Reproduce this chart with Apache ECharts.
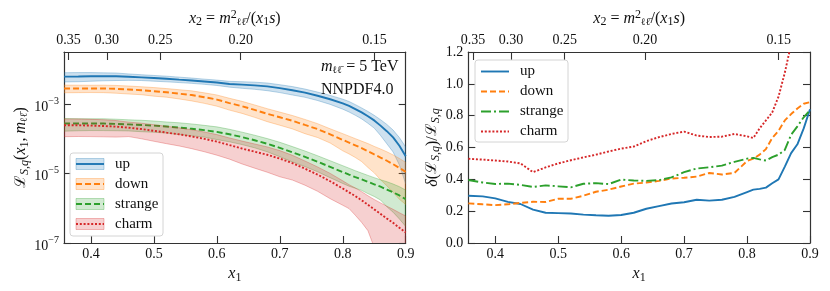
<!DOCTYPE html>
<html><head><meta charset="utf-8">
<script src="https://cdn.jsdelivr.net/npm/echarts@6/dist/echarts.min.js"></script>
<style>html,body{margin:0;padding:0;background:#fff}#c{width:830px;height:291px}</style>
</head><body><div id="c"></div>
<script>
// ---------------- data ----------------
const M_LL_TEV = 5, SQRT_S_TEV = 14;           // m_ll = 5 TeV, sqrt(s) = 14 TeV
const x1 = [0.3572,0.38,0.40,0.42,0.44,0.46,0.48,0.50,0.52,0.54,0.56,0.58,0.60,0.62,0.64,0.66,0.68,0.70,0.72,0.74,0.76,0.78,0.80,0.81,0.82,0.83,0.84,0.85,0.86,0.87,0.88,0.89,0.90];
// central luminosities
const lumUp      = [6.17e-3,6.24e-3,6.31e-3,6.31e-3,6.31e-3,6.10e-3,5.89e-3,5.62e-3,5.37e-3,5.07e-3,4.79e-3,4.47e-3,4.17e-3,3.80e-3,3.63e-3,3.47e-3,3.24e-3,2.88e-3,2.51e-3,2.14e-3,1.74e-3,1.38e-3,1.05e-3,8.9e-4,7.2e-4,5.75e-4,4.47e-4,3.39e-4,2.40e-4,1.66e-4,1.10e-4,6.3e-5,3.16e-5];
const lumDown    = [2.82e-3,2.82e-3,2.82e-3,2.82e-3,2.75e-3,2.63e-3,2.51e-3,2.34e-3,2.19e-3,2.0e-3,1.82e-3,1.58e-3,1.35e-3,1.07e-3,8.7e-4,6.8e-4,5.25e-4,4.17e-4,3.31e-4,2.51e-4,1.91e-4,1.35e-4,9.3e-5,7.8e-5,6.5e-5,5.4e-5,4.4e-5,3.55e-5,2.88e-5,2.34e-5,1.86e-5,1.45e-5,1.12e-5];
const lumStrange = [2.75e-4,2.75e-4,2.75e-4,2.75e-4,2.69e-4,2.60e-4,2.51e-4,2.40e-4,2.26e-4,2.11e-4,1.95e-4,1.78e-4,1.58e-4,1.35e-4,1.12e-4,9.1e-5,7.2e-5,5.5e-5,4.07e-5,3.02e-5,2.19e-5,1.55e-5,1.10e-5,9.3e-6,7.9e-6,6.8e-6,5.75e-6,4.9e-6,4.17e-6,3.47e-6,2.88e-6,2.34e-6,1.82e-6];
const lumCharm   = [2.45e-4,2.45e-4,2.40e-4,2.34e-4,2.24e-4,2.09e-4,1.91e-4,1.70e-4,1.51e-4,1.35e-4,1.17e-4,1.0e-4,8.3e-5,6.6e-5,5.25e-5,4.27e-5,3.47e-5,2.69e-5,2.0e-5,1.38e-5,9.3e-6,6.0e-6,3.7e-6,2.88e-6,2.24e-6,1.70e-6,1.26e-6,9.3e-7,6.9e-7,5.1e-7,3.8e-7,2.75e-7,2.0e-7];
// relative uncertainties delta(L)/L
const relUp      = [0.297,0.293,0.280,0.258,0.245,0.210,0.190,0.188,0.185,0.178,0.174,0.171,0.176,0.190,0.215,0.232,0.248,0.256,0.272,0.266,0.272,0.290,0.320,0.335,0.340,0.348,0.375,0.400,0.480,0.565,0.620,0.720,0.840];
const relDown    = [0.249,0.243,0.238,0.243,0.252,0.259,0.258,0.278,0.278,0.297,0.322,0.335,0.355,0.373,0.380,0.390,0.405,0.410,0.417,0.440,0.430,0.440,0.515,0.530,0.555,0.590,0.660,0.705,0.770,0.810,0.845,0.875,0.885];
const relStrange = [0.396,0.380,0.371,0.373,0.365,0.352,0.362,0.356,0.350,0.372,0.376,0.370,0.398,0.393,0.390,0.395,0.412,0.445,0.468,0.476,0.486,0.510,0.530,0.535,0.525,0.518,0.540,0.555,0.585,0.680,0.733,0.790,0.835];
const relCharm   = [0.529,0.524,0.518,0.512,0.500,0.445,0.475,0.500,0.520,0.538,0.555,0.575,0.593,0.606,0.640,0.665,0.685,0.700,0.675,0.666,0.668,0.685,0.670,0.660,0.720,0.770,0.820,0.920,1.070,1.250,1.450,1.700,2.000];
const flavours = ['up','down','strange','charm'];
const x1Ticks = [0.4,0.5,0.6,0.7,0.8,0.9];
const x2Ticks = [0.35,0.30,0.25,0.20,0.15];
const lumTicks = [1e-7,1e-5,1e-3];
const relTicks = [0,0.2,0.4,0.6,0.8,1.0,1.2];

// ---------------- styles ----------------
const F = '"Liberation Serif","DejaVu Serif",serif';
const FD = '"DejaVu Serif",serif';
const INK = '#111';
const colors = ['#1f77b4','#ff7f0e','#2ca02c','#d62728'];
const bandFill = ['rgba(31,119,180,0.22)','rgba(255,127,14,0.22)','rgba(44,160,44,0.22)','rgba(214,39,40,0.22)'];
const bandEdge = ['rgba(31,119,180,0.30)','rgba(255,127,14,0.30)','rgba(44,160,44,0.30)','rgba(214,39,40,0.30)'];
const dashL = [null,[6,3],[6,3],[2,1.8]];
const dashR = [null,[6,3],[10,3,2,3],[2,1.8]];
const LW = 1.9;
const lums = [lumUp,lumDown,lumStrange,lumCharm];
const rels = [relUp,relDown,relStrange,relCharm];

const K = Math.pow(M_LL_TEV / SQRT_S_TEV, 2);
const X1MIN = Math.sqrt(K), X1MAX = 0.9;

const rich = {
  t:   {fontFamily:F, fontSize:16, color:INK},
  it:  {fontFamily:F, fontSize:16, fontStyle:'italic', color:INK},
  L:   {fontFamily:FD, fontSize:15, color:INK},
  sub: {fontFamily:F, fontSize:12, fontStyle:'italic', color:INK, padding:[7,0,0,0]},
  subl:{fontFamily:FD, fontSize:10, color:INK, padding:[7,0,0,0]},
  subn:{fontFamily:F, fontSize:12, color:INK, padding:[7,0,0,0]},
  sup: {fontFamily:F, fontSize:12, color:INK, padding:[0,0,8,0]}
};
const LL = '{subl|ℓℓ\u0304}';
const tickRich = {
  b: {fontFamily:F, fontSize:14, color:INK, padding:[6,0,0,0]},
  e: {fontFamily:F, fontSize:10, color:INK, padding:[0,0,6,0]}
};
const frame = {show:true, onZero:false, lineStyle:{color:'#333', width:1.2}};
const tick = (vals, len) => ({show:true, inside:true, length:len||7, customValues:vals, lineStyle:{color:'#333', width:1.1}});
const lab = {fontFamily:F, fontSize:14, color:INK};

const grids = [
  {left:64, top:52, width:341.7, height:191},
  {left:468.3, top:52, width:341.7, height:191}
];

function xAxes(g) {
  return [
    {gridIndex:g, type:'value', position:'bottom', min:X1MIN, max:X1MAX, axisLine:frame, splitLine:{show:false},
     axisTick:tick(x1Ticks), axisLabel:Object.assign({customValues:x1Ticks, margin:4, formatter:v=>v.toFixed(1)}, lab),
     name:'{it|x}{subn|1}', nameLocation:'middle', nameGap:20, nameTextStyle:{rich}},
    {gridIndex:g, type:'value', position:'top', min:X1MIN, max:X1MAX, axisLine:frame, splitLine:{show:false},
     axisTick:tick(x2Ticks.map(v=>K/v), 8), axisLabel:Object.assign({customValues:x2Ticks.map(v=>K/v), margin:5, formatter:v=>(K/v).toFixed(2)}, lab),
     name:'{it|x}{subn|2}{t| = }{it|m}{sup|2}'+LL+'{t|/(}{it|x}{subn|1}{it|s}{t|)}', nameLocation:'middle', nameGap:21, nameTextStyle:{rich}}
  ];
}

const option = {
  animation:false,
  grid:grids,
  xAxis:[...xAxes(0), ...xAxes(1)],
  yAxis:[
    {gridIndex:0, type:'log', position:'left', min:1e-7, max:Math.pow(10,-1.5), axisLine:frame, splitLine:{show:false}, minorTick:{show:false},
     axisTick:tick(lumTicks), axisLabel:{customValues:lumTicks, margin:5, formatter:v=>'{b|10}{e|−'+Math.round(-Math.log10(v))+'}', rich:tickRich},
     name:'{L|ℒ}{sub|S,q}{t|(}{it|x}{subn|1}{t|, }{it|m}'+LL+'{t|)}', nameLocation:'middle', nameGap:30, nameRotate:90, nameTextStyle:{rich}},
    {gridIndex:0, type:'log', position:'right', min:1e-7, max:Math.pow(10,-1.5), axisLine:frame, splitLine:{show:false},
     axisTick:tick(lumTicks), axisLabel:{show:false}},
    {gridIndex:1, type:'value', position:'left', min:0, max:1.2, interval:0.2, axisLine:frame, splitLine:{show:false},
     axisTick:tick(relTicks), axisLabel:Object.assign({customValues:relTicks, margin:5, showMinLabel:true, showMaxLabel:true, formatter:v=>v.toFixed(1)}, lab),
     name:'{it|δ}{t|(}{L|ℒ}{sub|S,q}{t|)/}{L|ℒ}{sub|S,q}', nameLocation:'middle', nameGap:17, nameRotate:90, nameTextStyle:{rich}},
    {gridIndex:1, type:'value', position:'right', min:0, max:1.2, interval:0.2, axisLine:frame, splitLine:{show:false},
     axisTick:tick(relTicks), axisLabel:{show:false}}
  ],
  series:[],
  graphic:[]
};

// bands + central lines (left panel)
flavours.forEach((name,i)=>{
  const c = lums[i], d = rels[i];
  const band = x1.map((x,k)=>[x, Math.max(c[k]*(1-d[k]), 1e-12), c[k]*(1+d[k])]);
  option.series.push({
    type:'custom', name:name+' band', xAxisIndex:0, yAxisIndex:0, clip:true, silent:true, z:1+i*2,
    data:band, encode:{x:0, y:[1,2]},
    renderItem:(params, api)=>{
      if (params.dataIndex !== 0) return null;
      const up = band.map(p=>api.coord([p[0], p[2]]));
      const lo = band.map(p=>api.coord([p[0], p[1]])).reverse();
      return {type:'polygon', shape:{points:up.concat(lo)}, style:{fill:bandFill[i], stroke:bandEdge[i], lineWidth:1}};
    }
  });
  option.series.push({
    type:'line', name:name, xAxisIndex:0, yAxisIndex:0, showSymbol:false, symbol:'none', clip:true, z:2+i*2,
    data:x1.map((x,k)=>[x,c[k]]),
    lineStyle:{color:colors[i], width:LW, type:dashL[i] || 'solid', cap:'butt'}
  });
});
// relative uncertainties (right panel)
flavours.forEach((name,i)=>{
  option.series.push({
    type:'line', name:name+' rel', xAxisIndex:2, yAxisIndex:2, showSymbol:false, symbol:'none', clip:true, z:2+i,
    data:x1.map((x,k)=>[x,rels[i][k]]),
    lineStyle:{color:colors[i], width:LW, type:dashR[i] || 'solid', cap:'butt'}
  });
});

// legends
function addLegend(x0, y0, w, h, firstY, withBand, dashes) {
  option.graphic.push({type:'rect', z:100, shape:{x:x0,y:y0,width:w,height:h,r:3}, style:{fill:'rgba(255,255,255,0.85)', stroke:'#d4d4d4', lineWidth:1}});
  flavours.forEach((n,i)=>{
    const y = firstY + i*20;
    if (withBand) option.graphic.push({type:'rect', z:101, shape:{x:x0+6,y:y-5.5,width:28,height:11}, style:{fill:bandFill[i], stroke:bandEdge[i], lineWidth:1}});
    option.graphic.push({type:'line', z:102, shape:{x1:x0+6,y1:y,x2:x0+34,y2:y}, style:{stroke:colors[i], lineWidth:LW, lineDash:dashes[i] || null}});
    option.graphic.push({type:'text', z:102, x:x0+45, y:y, style:{text:n, font:'15px '+F, fill:INK, align:'left', verticalAlign:'middle', textAlign:'left', textVerticalAlign:'middle'}});
  });
}
addLegend(70, 153, 93, 83, 164, true, dashL);
addLegend(475, 60, 93, 82, 71.5, false, dashR);

// annotations
option.graphic.push({type:'text', z:102, x:321, y:67, style:{text:'{it|m}'+LL+'{t| = 5 TeV}', rich, font:'16px '+F, fill:INK, verticalAlign:'middle', textVerticalAlign:'middle'}});
option.graphic.push({type:'text', z:102, x:321, y:90, style:{text:'NNPDF4.0', font:'16px '+F, fill:INK, verticalAlign:'middle', textVerticalAlign:'middle'}});

const chart = echarts.init(document.getElementById('c'), null, {renderer:'canvas'});
chart.setOption(option);
</script></body></html>
